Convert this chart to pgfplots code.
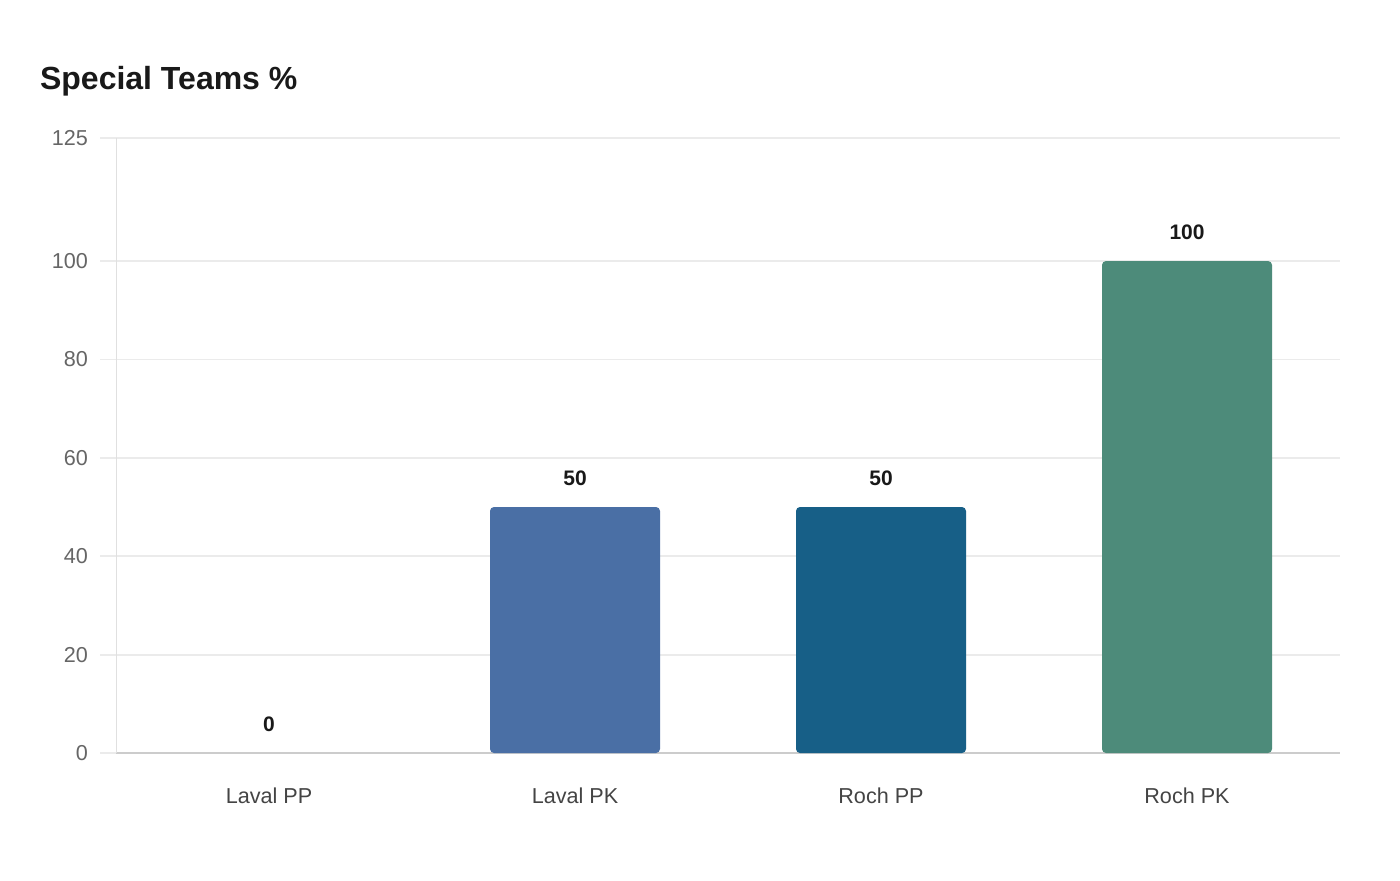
\documentclass[border=0pt]{standalone}
\usepackage{pgfplots}
\pgfplotsset{compat=1.18}
\usepackage{fontspec}
\setmainfont{Liberation Sans}
\definecolor{c1}{HTML}{4A6FA5}
\definecolor{c2}{HTML}{175F87}
\definecolor{c3}{HTML}{4D8B7A}
\definecolor{gridc}{HTML}{EBEBEB}
\definecolor{tickc}{HTML}{666666}
\definecolor{xlab}{HTML}{444444}
\begin{document}
\begin{tikzpicture}
\path[use as bounding box, fill=white] (0,0) rectangle (700pt,440pt);
\node[anchor=west, font=\bfseries\fontsize{16pt}{19pt}\selectfont, text=black!90] at (16.5pt,399.5pt) {Special Teams \%};
\begin{axis}[
  at={(58pt,63.5pt)}, anchor=south west,
  scale only axis, width=612pt, height=307.5pt,
  xmin=-0.5, xmax=3.5, ymin=0, ymax=125,
  ytick={0,20,40,60,80,100,125},
  xtick={0,1,2,3},
  xticklabels={Laval PP,Laval PK,Roch PP,Roch PK},
  /pgf/number format/assume math mode=true,
  ymajorgrids, grid style={gridc, line width=0.9pt},
  axis x line*=bottom, axis y line*=left,
  x axis line style={draw=black!20, line width=0.8pt, -},
  y axis line style={draw=black!12, line width=0.5pt, -},
  ytick style={draw=gridc, line width=0.9pt},
  xtick style={draw=none},
  tick align=outside, major tick length=8pt,
  yticklabel style={text=tickc, font=\fontsize{10.8pt}{13pt}\selectfont, xshift=-2.5pt},
  xticklabel style={text=xlab, font=\fontsize{10.8pt}{13pt}\selectfont, yshift=-6pt},
  ybar, bar width=85pt,
  nodes near coords,
  every node near coord/.append style={font=\bfseries\fontsize{10.5pt}{12pt}\selectfont, text=black!90, yshift=7pt},
  clip=false,
]
\addplot[fill=none, draw=none, bar shift=0pt] coordinates {(0,0)};
\addplot[fill=c1, draw=none, bar shift=0pt, rounded corners=2pt] coordinates {(1,50)};
\addplot[fill=c2, draw=none, bar shift=0pt, rounded corners=2pt] coordinates {(2,50)};
\addplot[fill=c3, draw=none, bar shift=0pt, rounded corners=2pt] coordinates {(3,100)};
\end{axis}
\end{tikzpicture}
\end{document}
